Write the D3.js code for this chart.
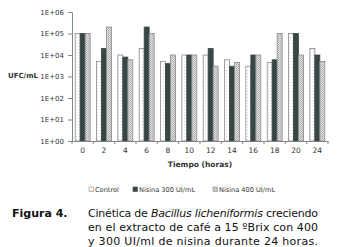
<!DOCTYPE html>
<html>
<head>
  <script src="https://d3js.org/d3.v7.min.js"></script>
  <style>
    body { margin: 0; background: #fff; }
    .axis text { font-family: "DejaVu Sans", Verdana, sans-serif; font-size: 7px; fill: #333; }
    .axis path, .axis line { stroke: #7d8b8b; }
    .caption { font-family: "DejaVu Sans", Verdana, sans-serif; font-size: 11px; fill: #111; }
  </style>
</head>
<body>
<svg id="chart" width="337" height="247"></svg>
<script>
var times = ["0", "2", "4", "6", "8", "10", "12", "14", "16", "18", "20", "24"];
var control = [1e5, 5e3, 1e4, 2e4, 5e3, 1e4, 1e4, 6e3, 3e3, 4.5e3, 1e5, 2e4];
var nis300 = [1e5, 2e4, 8e3, 2e5, 4e3, 1e4, 2e4, 3e3, 1e4, 6e3, 1e5, 1e4];
var nis400 = [1e5, 2e5, 6e3, 1e5, 1e4, 1e4, 3e3, 4.5e3, 1e4, 1e5, 1e4, 5e3];
var yTicks = [1, 10, 100, 1e3, 1e4, 1e5, 1e6];
var seriesNames = ["Control", "Nisina 300 UI/mL", "Nisina 400 UI/mL"];

var series = [control, nis300, nis400];
var fills = ["url(#pControl)", "#3a4646", "url(#p400)"];

var svg = d3.select("#chart");

// patterns
var defs = svg.append("defs");
var pc = defs.append("pattern").attr("id", "pControl")
  .attr("width", 3).attr("height", 3).attr("patternUnits", "userSpaceOnUse");
pc.append("rect").attr("width", 3).attr("height", 3).attr("fill", "#fff");
pc.append("rect").attr("x", 1).attr("y", 1).attr("width", 1).attr("height", 1).attr("fill", "#d6d6d6");
var p4 = defs.append("pattern").attr("id", "p400")
  .attr("width", 2).attr("height", 2).attr("patternUnits", "userSpaceOnUse");
p4.append("rect").attr("width", 2).attr("height", 2).attr("fill", "#e4e4e4");
p4.append("rect").attr("width", 1).attr("height", 1).attr("fill", "#a0a0a0");
p4.append("rect").attr("x", 1).attr("y", 1).attr("width", 1).attr("height", 1).attr("fill", "#bdbdbd");

var x0 = d3.scaleBand().domain(times).range([72, 328]).paddingInner(0.3).paddingOuter(0.15);
var x1 = d3.scaleBand().domain([0, 1, 2]).range([0, x0.bandwidth()]);
var y = d3.scaleLog().domain([1, 1e6]).range([141, 12]);

// bars
series.forEach(function(vals, s) {
  svg.append("g").selectAll("rect")
    .data(vals)
    .enter()
    .append("rect")
    .attr("x", (d, i) => x0(times[i]) + x1(s))
    .attr("y", d => y(d))
    .attr("width", x1.bandwidth())
    .attr("height", d => y(1) - y(d))
    .attr("fill", fills[s])
    .attr("stroke", s === 1 ? "#3a4646" : "#8a8a8a")
    .attr("stroke-width", 0.8);
});

// y axis
var yAxis = svg.append("g").attr("class", "axis")
  .attr("transform", "translate(72,0)")
  .call(d3.axisLeft(y).tickValues(yTicks).tickSize(4).tickSizeOuter(0)
    .tickFormat(d => "1E+0" + Math.round(Math.log10(d))));
yAxis.selectAll("text").attr("x", -8);

// x axis
var xAxis = svg.append("g").attr("class", "axis")
  .attr("transform", "translate(0,141)")
  .call(d3.axisBottom(x0).tickSize(0).tickSizeOuter(0).tickPadding(7));
xAxis.selectAll("text").style("font-size", "7.5px");
xAxis.selectAll(".tickmark").data(times.concat(["end"])).enter()
  .append("line").attr("class", "tickmark")
  .attr("x1", (d, i) => 72 + i * x0.step())
  .attr("x2", (d, i) => 72 + i * x0.step())
  .attr("y1", 0).attr("y2", 3)
  .attr("stroke", "#7d8b8b");

svg.append("text").attr("class", "axis")
  .attr("x", 8).attr("y", 78)
  .style("font-family", "DejaVu Sans, sans-serif").style("font-size", "7px")
  .style("font-weight", "bold").style("fill", "#333")
  .text("UFC/mL");

svg.append("text")
  .attr("x", 200).attr("y", 167)
  .attr("text-anchor", "middle")
  .style("font-family", "DejaVu Sans, sans-serif").style("font-size", "7.5px")
  .style("font-weight", "bold").style("fill", "#333")
  .text("Tiempo (horas)");

// legend
var legX = [89, 133, 213];
var leg = svg.append("g");
seriesNames.forEach(function(name, i) {
  leg.append("rect").attr("x", legX[i]).attr("y", 187).attr("width", 4.5).attr("height", 4.5)
    .attr("fill", fills[i]).attr("stroke", i === 1 ? "#3a4646" : "#8a8a8a").attr("stroke-width", 0.6);
  leg.append("text").attr("x", legX[i] + 6).attr("y", 192)
    .style("font-family", "DejaVu Sans, sans-serif").style("font-size", "6.6px").style("fill", "#333")
    .text(name);
});

// caption
svg.append("text").attr("class", "caption")
  .attr("x", 12).attr("y", 217)
  .style("font-weight", "bold")
  .text("Figura 4.");
var l1 = svg.append("text").attr("class", "caption").attr("x", 88).attr("y", 217)
  .attr("textLength", 230).attr("lengthAdjust", "spacing");
l1.append("tspan").text("Cinética de ");
l1.append("tspan").style("font-style", "italic").text("Bacillus licheniformis");
l1.append("tspan").text(" creciendo");
svg.append("text").attr("class", "caption").attr("x", 88).attr("y", 231)
  .attr("textLength", 230).attr("lengthAdjust", "spacing")
  .text("en el extracto de café a 15 ºBrix con 400");
svg.append("text").attr("class", "caption").attr("x", 88).attr("y", 245)
  .attr("textLength", 230).attr("lengthAdjust", "spacing")
  .text("y 300 UI/ml de nisina durante 24 horas.");
</script>
</body>
</html>
